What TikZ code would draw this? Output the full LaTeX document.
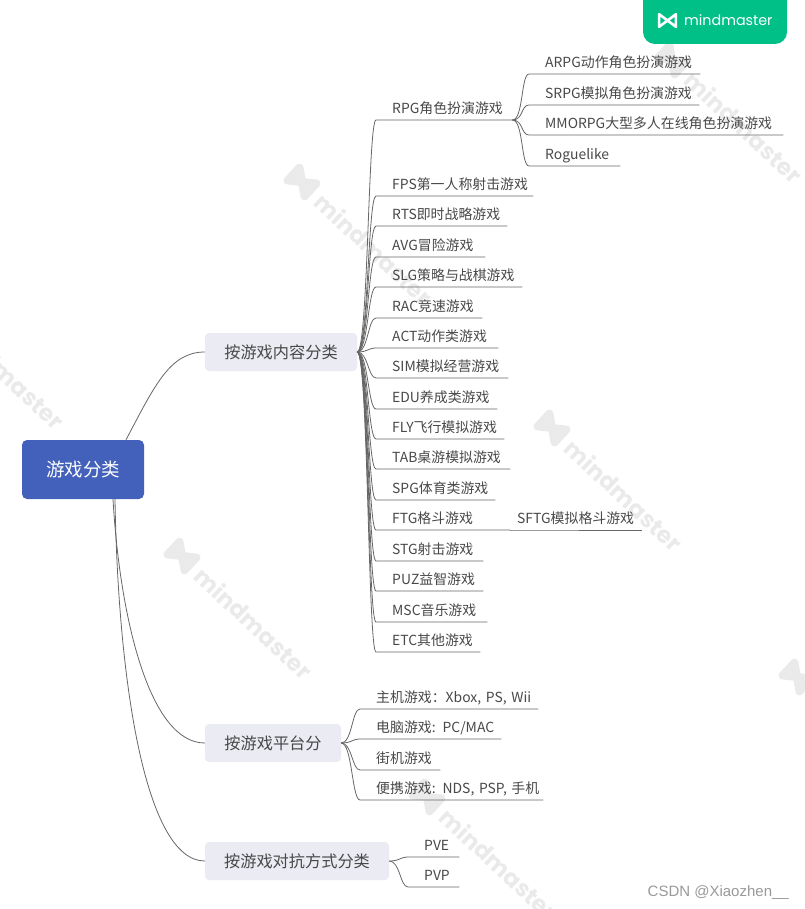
\documentclass[tikz,border=0pt]{standalone}
\usepackage{fontspec}
\setmainfont{Noto Sans CJK SC}
\newfontfamily\logofont{Poppins}
\newfontfamily\signfont{Liberation Sans}
\tikzset{
  branch/.style={draw=black!60,line width=0.8pt},
  rootbox/.style={fill=rootblue,rounded corners=5pt,minimum width=122pt,minimum height=59pt,text=white,font=\fontsize{18.5}{22}\selectfont},
  hubbox/.style={fill=hubgrey,rounded corners=4pt,minimum height=38pt,inner xsep=0pt,text=txtgrey,font=\fontsize{16.2}{20}\selectfont},
  leaf/.style={anchor=south west,inner xsep=0pt,inner ysep=3pt,text height=11pt,text depth=3pt,text=txtgrey,font=\fontsize{13.9}{16}\selectfont},
  wmtext/.style={anchor=west,rotate=-43,inner sep=0pt,text=wmgrey,font=\logofont\bfseries\fontsize{23.2}{28}\selectfont},
  mmlogo/.pic={\draw[line join=round] (-8,-6) -- (-8,6) -- (8,-6) -- (8,6) -- cycle;}
}
\definecolor{rootblue}{HTML}{4360BB}
\definecolor{hubgrey}{HTML}{EAEBF3}
\definecolor{txtgrey}{HTML}{484848}
\definecolor{wmgrey}{HTML}{EAEAEA}
\definecolor{badgegreen}{HTML}{00C088}
\begin{document}
\begin{tikzpicture}[x=1pt,y=-1pt]
  \useasboundingbox (0,0) rectangle (804,909);
  % watermarks
  \foreach \cx/\cy [count=\i] in {672/60,302/182,-66/306,552/428,182/556,797/677,427/797} {
    \pic[rotate=-43,scale=1.45,draw=wmgrey,line width=8pt] at (\cx,\cy) {mmlogo};
    \node[wmtext] (wm\i) at (\cx+17,\cy+16) {mindmaster};
  }
  % badge
  \fill[badgegreen,rounded corners=12pt] (643,-20) rectangle (787,44);
  \pic[draw=white,line width=2.6pt,scale=1.05] at (667.5,20.5) {mmlogo};
  \node[anchor=west,inner sep=0pt,text=white,font=\logofont\fontsize{14.3}{18}\selectfont] (brand) at (684,20.5) {mindmaster};
  % main boxes
  \node[rootbox] (root) at (83,469.5) {游戏分类};
  \node[hubbox,minimum width=152pt] (content) at (281,352) {按游戏内容分类};
  \node[hubbox,minimum width=136pt] (platform) at (273,743) {按游戏平台分};
  \node[hubbox,minimum width=184pt] (versus) at (297,861) {按游戏对抗方式分类};
  \draw[branch] ([xshift=43pt]root.north) .. controls (155,385) and (170,352) .. (content.west);
  \draw[branch] ([xshift=30pt]root.south) .. controls (120,620) and (150,743) .. (platform.west);
  \draw[branch] ([xshift=32pt]root.south) .. controls (118,680) and (145,861) .. (versus.west);
  % game types
  \foreach \nm/\yy/\xe/\txt in {rpg/120/512/RPG角色扮演游戏,fps/196/533/FPS第一人称射击游戏,rts/226/507/RTS即时战略游戏,
    avg/257/485/AVG冒险游戏,slg/287/522/SLG策略与战棋游戏,rac/318/482/RAC竞速游戏,act/348/498/ACT动作类游戏,
    sim/378/508/SIM模拟经营游戏,edu/409/497/EDU养成类游戏,fly/439/504/FLY飞行模拟游戏,tab/469/510/TAB桌游模拟游戏,
    spg/500/495/SPG体育类游戏,ftg/530/510/FTG格斗游戏,stg/561/483/STG射击游戏,puz/591/483/PUZ益智游戏,
    msc/622/487/MSC音乐游戏,etc/652/480/ETC其他游戏} {
    \pgfmathsetlengthmacro{\wide}{\xe-392}
    \node[leaf,text width=\wide] (\nm) at (392,\yy) {\txt};
    \draw[branch] (content.east) .. controls +(11,0) and ([xshift=-24pt]\nm.south west) .. ([xshift=-16pt]\nm.south west) -- (\nm.south east);
  }
  % rpg kinds
  \foreach \nm/\yy/\xe/\txt in {arpg/74/700/ARPG动作角色扮演游戏,srpg/105/699/SRPG模拟角色扮演游戏,
    mmo/135/783/MMORPG大型多人在线角色扮演游戏,rogue/166/620/Roguelike} {
    \pgfmathsetlengthmacro{\wide}{\xe-545}
    \node[leaf,text width=\wide] (\nm) at (545,\yy) {\txt};
    \draw[branch] (rpg.south east) .. controls +(11,0) and ([xshift=-24pt]\nm.south west) .. ([xshift=-16pt]\nm.south west) -- (\nm.south east);
  }
  \node[leaf,text width=125pt] (sftg) at (517,530) {SFTG模拟格斗游戏};
  \draw[branch] (ftg.south east) -- (sftg.south west) -- (sftg.south east);
  % platforms
  \foreach \nm/\yy/\xe/\txt in {console/709/538/{主机游戏：Xbox, PS, Wii},pc/739/501/{电脑游戏: PC/MAC},
    arcade/770/440/街机游戏,handheld/800/543/{便携游戏: NDS, PSP, 手机}} {
    \pgfmathsetlengthmacro{\wide}{\xe-376}
    \node[leaf,text width=\wide] (\nm) at (376,\yy) {\txt};
    \draw[branch] (platform.east) .. controls +(11,0) and ([xshift=-24pt]\nm.south west) .. ([xshift=-16pt]\nm.south west) -- (\nm.south east);
  }
  % modes
  \foreach \nm/\yy in {pve/857,pvp/887} {
    \node[leaf,text width=35pt] (\nm) at (424,\yy) {\MakeUppercase{\nm}};
    \draw[branch] (versus.east) .. controls +(11,0) and ([xshift=-24pt]\nm.south west) .. ([xshift=-16pt]\nm.south west) -- (\nm.south east);
  }
  \node[anchor=east,inner sep=0pt,text=black!40,font=\signfont\fontsize{15}{17}\selectfont] (sign) at (789,893) {CSDN @Xiaozhen\_\_};
\end{tikzpicture}
\end{document}
